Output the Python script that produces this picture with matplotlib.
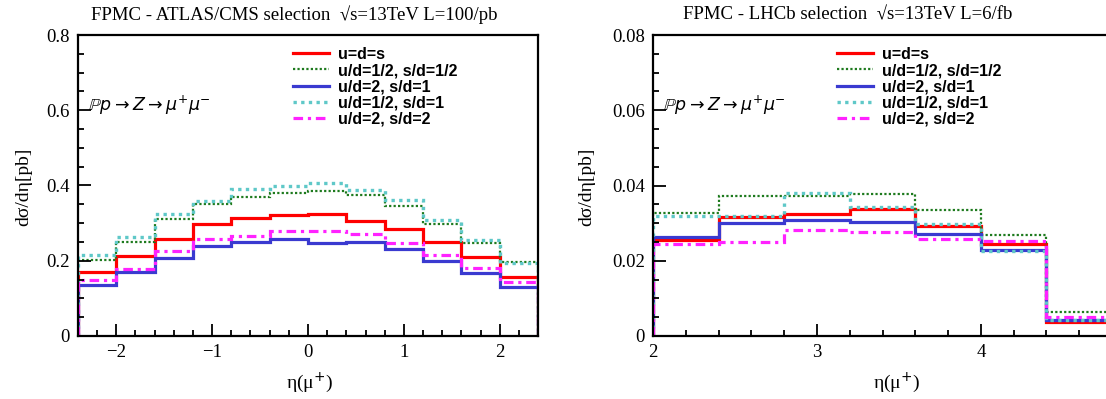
import numpy as np
import matplotlib
matplotlib.use("Agg")
import matplotlib.pyplot as plt
from matplotlib.ticker import MultipleLocator, FormatStrFormatter

# ---------- data ----------
labels = ["u=d=s", "u/d=1/2, s/d=1/2", "u/d=2, s/d=1", "u/d=1/2, s/d=1", "u/d=2, s/d=2"]

# ATLAS/CMS selection: eta in [-2.4, 2.4], 12 bins
edges_cms = np.linspace(-2.4, 2.4, 13)
cms_uds = [0.171, 0.212, 0.257, 0.297, 0.313, 0.322, 0.324, 0.306, 0.284, 0.250, 0.209, 0.156]
cms_u05_s05 = [0.201, 0.251, 0.312, 0.351, 0.370, 0.379, 0.385, 0.376, 0.346, 0.298, 0.248, 0.198]
cms_u2_s1 = [0.135, 0.169, 0.206, 0.238, 0.250, 0.258, 0.248, 0.250, 0.232, 0.200, 0.167, 0.131]
cms_u05_s1 = [0.216, 0.262, 0.325, 0.358, 0.391, 0.399, 0.406, 0.387, 0.362, 0.308, 0.254, 0.194]
cms_u2_s2 = [0.148, 0.179, 0.225, 0.258, 0.267, 0.280, 0.279, 0.270, 0.246, 0.214, 0.181, 0.143]

# LHCb selection: eta in [2.0, 4.8], 7 bins
edges_lhcb = np.linspace(2.0, 4.8, 8)
lhcb_uds = [0.0256, 0.0315, 0.0325, 0.0337, 0.0292, 0.0244, 0.0037]
lhcb_u05_s05 = [0.0326, 0.0372, 0.0372, 0.0378, 0.0335, 0.0268, 0.0063]
lhcb_u2_s1 = [0.0262, 0.0300, 0.0308, 0.0303, 0.0272, 0.0229, 0.0043]
lhcb_u05_s1 = [0.0319, 0.0320, 0.0381, 0.0342, 0.0298, 0.0227, 0.0043]
lhcb_u2_s2 = [0.0245, 0.0251, 0.0283, 0.0276, 0.0257, 0.0252, 0.0051]

# ---------- styles ----------
styles = [
    dict(color="#ff0000", lw=2.3, ls="-"),
    dict(color="#1e7a1e", lw=1.6, ls=(0, (1, 1))),
    dict(color="#3a3ad0", lw=2.3, ls="-"),
    dict(color="#5fc8c8", lw=2.4, ls=(0, (1, 1.3))),
    dict(color="#ff22ff", lw=2.3, ls=(0, (3, 1.5, 1, 1.5))),
]

serif = ["Liberation Serif", "DejaVu Serif"]
plt.rcParams["mathtext.fontset"] = "dejavusans"
W, H = 1106, 399
fig = plt.figure(figsize=(W / 100, H / 100), dpi=100)


def px_axes(x0, x1, y0, y1):
    return fig.add_axes([x0 / W, 1 - y1 / H, (x1 - x0) / W, (y1 - y0) / H])


def style_axes(ax, xmaj, xmin, ymaj, ymin, yfmt):
    for s in ax.spines.values():
        s.set_linewidth(1.6)
    ax.xaxis.set_major_locator(MultipleLocator(xmaj))
    ax.xaxis.set_minor_locator(MultipleLocator(xmin))
    ax.yaxis.set_major_locator(MultipleLocator(ymaj))
    ax.yaxis.set_minor_locator(MultipleLocator(ymin))
    ax.yaxis.set_major_formatter(FormatStrFormatter(yfmt))
    ax.tick_params(which="both", direction="in", top=False, right=False, width=1.3)
    ax.tick_params(which="major", length=9, labelsize=13.5, pad=6)
    ax.tick_params(which="minor", length=4.5)
    for t in ax.get_xticklabels() + ax.get_yticklabels():
        t.set_fontfamily(serif)


def draw(ax, edges, series, leg_x):
    for vals, st in zip(series, styles):
        ax.stairs(vals, edges, baseline=0, **st)
    lines = [plt.Line2D([], [], **st) for st in styles]
    ax.legend(lines, labels, loc="upper left", bbox_to_anchor=(leg_x, 1.006),
              frameon=False, handlelength=2.25, handletextpad=0.55,
              labelspacing=0.08, borderpad=0.35,
              prop=dict(family="Liberation Sans", weight="bold", size=11.5))
    ax.text(0.022, 0.765, r"$\mathbb{P}p \rightarrow Z \rightarrow \mu^{+}\mu^{-}$",
            transform=ax.transAxes, fontsize=12.5, ha="left", va="center")


# ---------- left panel ----------
ax1 = px_axes(78, 538, 35, 336)
draw(ax1, edges_cms, [cms_uds, cms_u05_s05, cms_u2_s1, cms_u05_s1, cms_u2_s2], 0.438)
ax1.set_xlim(-2.4, 2.4)
ax1.set_ylim(0, 0.8)
style_axes(ax1, 1, 0.2, 0.2, 0.05, "%g")

# ---------- right panel (runs past the right edge of the picture) ----------
ax2 = px_axes(653, 1112, 35, 336)
draw(ax2, edges_lhcb, [lhcb_uds, lhcb_u05_s05, lhcb_u2_s1, lhcb_u05_s1, lhcb_u2_s2], 0.371)
ax2.set_xlim(2.0, 4.8)
ax2.set_ylim(0, 0.08)
style_axes(ax2, 1, 0.2, 0.02, 0.005, "%g")

# ---------- titles and axis labels ----------
fig.text(294 / W, 1 - 15 / H, "FPMC - ATLAS/CMS selection  √s=13TeV L=100/pb",
         ha="center", va="center", fontsize=13.5, family=serif)
fig.text(848 / W, 1 - 15 / H, "FPMC - LHCb selection  √s=13TeV L=6/fb",
         ha="center", va="center", fontsize=13.5, family=serif)

for xc in (24, 587):
    fig.text(xc / W, 1 - 148 / H, "dσ/dη[pb]", rotation=90, ha="center", va="top",
             fontsize=14, family=serif)
for xc in (310, 897):
    fig.text(xc / W, 1 - 383 / H, "η(μ$^{+}$)", ha="center", va="center",
             fontsize=14, family=serif)

fig.savefig("out.png", dpi=100)
